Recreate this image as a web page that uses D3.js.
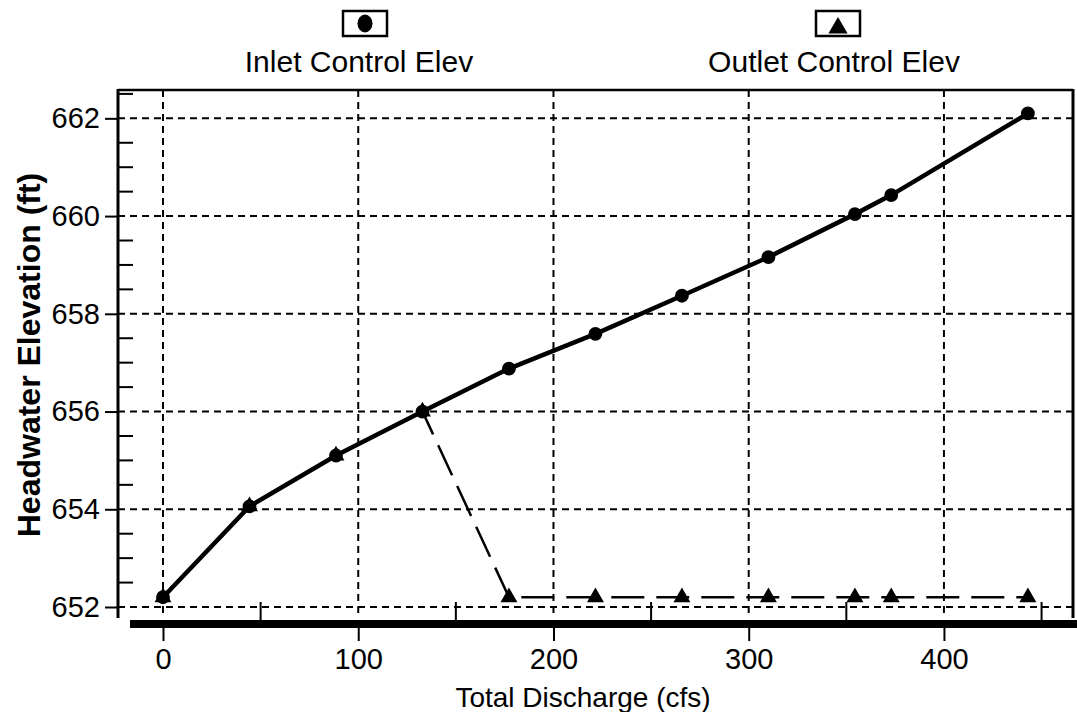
<!DOCTYPE html>
<html>
<head>
<meta charset="utf-8">
<script src="https://cdn.jsdelivr.net/npm/d3@7"></script>
<style>
  body { margin: 0; background: #fff; }
  svg { display: block; font-family: "Liberation Sans", Arial, sans-serif; }
  .tick-label { font-size: 29px; fill: #000; }
  .axis-title { font-size: 28px; fill: #000; }
  .y-title { font-size: 32px; font-weight: bold; fill: #000; }
  .legend-label { font-size: 30px; fill: #000; }
</style>
</head>
<body>
<div id="chart"></div>
<script>
// ── data ──────────────────────────────────────────────
const discharge  = [0, 44.3, 88.6, 132.9, 177.2, 221.5, 265.8, 310.1, 354.4, 373.0, 443.0];
const inletElev  = [652.2, 654.06, 655.1, 656.0, 656.88, 657.59, 658.37, 659.16, 660.04, 660.43, 662.1];
const outletElev = [652.2, 654.06, 655.1, 656.0, 652.2, 652.2, 652.2, 652.2, 652.2, 652.2, 652.2];

const xTicks = [0, 100, 200, 300, 400];
const xMinorTicks = [50, 150, 250, 350, 450];
const yTicks = [652, 654, 656, 658, 660, 662];
const yMinorTicks = [652.5, 653, 653.5, 654.5, 655, 655.5, 656.5, 657, 657.5,
                     658.5, 659, 659.5, 660.5, 661, 661.5, 662.5];

const seriesNames = ["Inlet Control Elev", "Outlet Control Elev"];

// ── layout ────────────────────────────────────────────
const width = 1077, height = 712;
const plotLeft = 118, plotRight = 1073, plotTop = 90, plotBottom = 618;

const svg = d3.select("#chart")
    .append("svg")
    .attr("width", width)
    .attr("height", height);

const xScale = d3.scaleLinear()
    .domain([-23.05, 466.1])
    .range([plotLeft, plotRight]);

const yScale = d3.scaleLinear()
    .domain([651.775, 662.58])
    .range([plotBottom, plotTop]);

// Grid lines
svg.append("g")
    .selectAll("line")
    .data(yTicks)
    .join("line")
    .attr("x1", plotLeft)
    .attr("x2", plotRight)
    .attr("y1", d => yScale(d))
    .attr("y2", d => yScale(d))
    .attr("stroke", "#000")
    .attr("stroke-width", 2)
    .attr("stroke-dasharray", "7,5");

svg.append("g")
    .selectAll("line")
    .data(xTicks)
    .join("line")
    .attr("x1", d => xScale(d))
    .attr("x2", d => xScale(d))
    .attr("y1", plotTop)
    .attr("y2", plotBottom)
    .attr("stroke", "#000")
    .attr("stroke-width", 2)
    .attr("stroke-dasharray", "7,5");

// Frame: top & right border, bottom shadow bar
svg.append("line")
    .attr("x1", plotLeft).attr("x2", plotRight)
    .attr("y1", plotTop).attr("y2", plotTop)
    .attr("stroke", "#000").attr("stroke-width", 2.5);
svg.append("line")
    .attr("x1", plotRight).attr("x2", plotRight)
    .attr("y1", plotTop - 1).attr("y2", plotBottom)
    .attr("stroke", "#000").attr("stroke-width", 3);
svg.append("rect")
    .attr("x", 130)
    .attr("y", 620)
    .attr("width", width - 130)
    .attr("height", 8)
    .attr("fill", "#000");

// Left axis
const leftAxis = d3.axisLeft(yScale)
    .tickValues(yTicks)
    .tickFormat(d3.format("d"))
    .tickSize(13)
    .tickPadding(5);
const yAxisG = svg.append("g")
    .attr("transform", `translate(${plotLeft},0)`)
    .call(leftAxis);
yAxisG.select(".domain").remove();
yAxisG.selectAll(".tick line").attr("stroke-width", 2);
yAxisG.selectAll(".tick text").attr("class", "tick-label");
yAxisG.attr("font-family", null).attr("font-size", null);

svg.append("line")
    .attr("x1", plotLeft).attr("x2", plotLeft)
    .attr("y1", plotTop - 1).attr("y2", plotBottom)
    .attr("stroke", "#000").attr("stroke-width", 3);

// minor y ticks (inward)
svg.append("g")
    .selectAll("line")
    .data(yMinorTicks)
    .join("line")
    .attr("x1", plotLeft)
    .attr("x2", plotLeft + 15)
    .attr("y1", d => yScale(d))
    .attr("y2", d => yScale(d))
    .attr("stroke", "#000")
    .attr("stroke-width", 2);

// Bottom axis
const bottomAxis = d3.axisBottom(xScale)
    .tickValues(xTicks)
    .tickFormat(d3.format("d"))
    .tickSize(13)
    .tickPadding(7);
const xAxisG = svg.append("g")
    .attr("transform", `translate(0,628)`)
    .call(bottomAxis);
xAxisG.select(".domain").remove();
xAxisG.selectAll(".tick line").attr("stroke-width", 2);
xAxisG.selectAll(".tick text").attr("class", "tick-label");
xAxisG.attr("font-family", null).attr("font-size", null);

// minor x ticks (inward, above the bar)
svg.append("g")
    .selectAll("line")
    .data(xMinorTicks)
    .join("line")
    .attr("x1", d => xScale(d))
    .attr("x2", d => xScale(d))
    .attr("y1", 602)
    .attr("y2", 620)
    .attr("stroke", "#000")
    .attr("stroke-width", 2);

// Axis titles
svg.append("text")
    .text("Total Discharge (cfs)")
    .attr("class", "axis-title")
    .attr("text-anchor", "middle")
    .attr("x", 583)
    .attr("y", 707);

svg.append("text")
    .text("Headwater Elevation (ft)")
    .attr("class", "y-title")
    .attr("text-anchor", "middle")
    .attr("transform", "translate(40,355) rotate(-90)");

// Series lines
const inletPts = discharge.map((d, i) => [d, inletElev[i]]);
const outletPts = discharge.map((d, i) => [d, outletElev[i]]);
const line = d3.line()
    .x(d => xScale(d[0]))
    .y(d => yScale(d[1]));

svg.append("path")
    .datum(outletPts)
    .attr("d", line)
    .attr("fill", "none")
    .attr("stroke", "#000")
    .attr("stroke-width", 2.5)
    .attr("stroke-dasharray", "33,12");

svg.append("path")
    .datum(inletPts)
    .attr("d", line)
    .attr("fill", "none")
    .attr("stroke", "#000")
    .attr("stroke-width", 4.5);

const triangle = d3.symbol().type(d3.symbolTriangle).size(125);
const circle = d3.symbol().type(d3.symbolCircle).size(150);

svg.append("g")
    .selectAll("path")
    .data(outletPts)
    .join("path")
    .attr("d", triangle)
    .attr("transform", d => `translate(${xScale(d[0])},${yScale(d[1])})`)
    .attr("fill", "#000");

svg.append("g")
    .selectAll("path")
    .data(inletPts)
    .join("path")
    .attr("d", circle)
    .attr("transform", d => `translate(${xScale(d[0])},${yScale(d[1])})`)
    .attr("fill", "#000");

// Legend
const legendItems = [
    { name: seriesNames[0], cx: 365, tx: 359, symbol: "circle" },
    { name: seriesNames[1], cx: 838, tx: 834, symbol: "triangle" }
];
const legend = svg.append("g");
legendItems.forEach(item => {
    legend.append("rect")
        .attr("x", item.cx - 22)
        .attr("y", 11)
        .attr("width", 44)
        .attr("height", 25)
        .attr("fill", "#fff")
        .attr("stroke", "#000")
        .attr("stroke-width", 2.5);
    if (item.symbol === "circle") {
        legend.append("ellipse")
            .attr("cx", item.cx)
            .attr("cy", 23.5)
            .attr("rx", 7.5)
            .attr("ry", 9)
            .attr("fill", "#000");
    } else {
        legend.append("path")
            .attr("d", d3.symbol().type(d3.symbolTriangle).size(160)())
            .attr("transform", `translate(${item.cx},28)`)
            .attr("fill", "#000");
    }
    legend.append("text")
        .text(item.name)
        .attr("class", "legend-label")
        .attr("text-anchor", "middle")
        .attr("x", item.tx)
        .attr("y", 72);
});
</script>
</body>
</html>
